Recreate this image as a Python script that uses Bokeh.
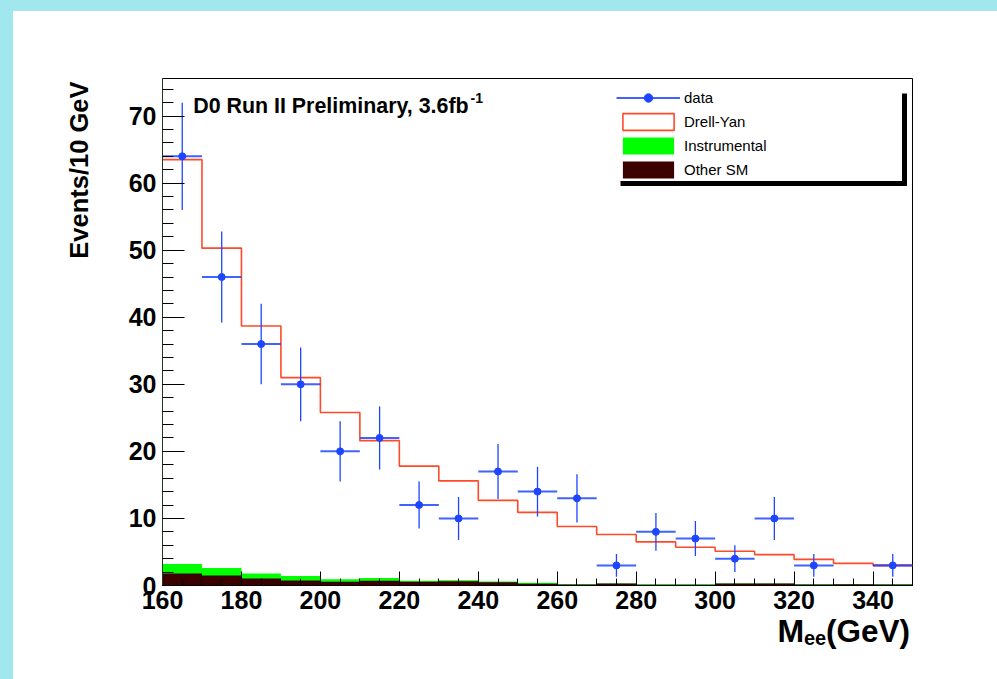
import math
from bokeh.plotting import figure
from bokeh.models import Range1d, SingleIntervalTicker, Label, Legend, LegendItem, Spacer
from bokeh.layouts import column, row
from bokeh.core.properties import value
from bokeh.embed import file_html
from bokeh.resources import INLINE

# ---------------- data ----------------
bin_edges = [160, 170, 180, 190, 200, 210, 220, 230, 240, 250, 260,
             270, 280, 290, 300, 310, 320, 330, 340, 350]
drell_yan = [63.5, 50.3, 38.7, 31.0, 25.8, 21.6, 17.8, 15.6, 12.7, 10.9,
             8.8, 7.6, 6.5, 5.7, 5.1, 4.6, 3.9, 3.3, 3.0]
instrumental_top = [3.2, 2.6, 1.8, 1.4, 0.95, 1.1, 0.7, 0.8, 0.6, 0.4,
                    0.2, 0.3, 0.2, 0.2, 0.3, 0.3, 0.2, 0.2, 0.2]
other_sm = [1.8, 1.5, 1.05, 0.75, 0.55, 0.7, 0.55, 0.65, 0.5, 0.25,
            0.15, 0.3, 0.1, 0.1, 0.3, 0.3, 0.15, 0.2, 0.15]
data_centers = [165, 175, 185, 195, 205, 215, 225, 235, 245, 255, 265,
                275, 285, 295, 305, 315, 325, 345]
data_counts = [64, 46, 36, 30, 20, 22, 12, 10, 17, 14, 13, 3, 8, 7, 4, 10, 3, 3]
data_errors = [8.0, 6.8, 6.0, 5.5, 4.5, 4.7, 3.5, 3.2, 4.1, 3.7, 3.6,
               1.7, 2.8, 2.6, 2.0, 3.2, 1.7, 1.7]
bin_half_width = 5

title_text = "D0 Run II Preliminary, 3.6fb"
title_sup = "-1"
y_title = "Events/10 GeV"
x_title_main = "M"
x_title_sub = "ee"
x_title_unit = "(GeV)"

# ---------------- style ----------------
CYAN = "#a0e8ee"
RED = "#ff4a2a"
BLUE = "#1e46ff"
GREEN = "#00ff00"
BROWN = "#3c0000"
FONT = "Liberation Sans"

W, H = 997, 679
X0, X1, Y0, Y1 = 160, 350, 0, 75.6
FL, FR, FT, FB = 162, 912, 78, 585   # plot frame in page pixels
OFF_X, OFF_Y = 13, 11                # cyan bands
SPLIT_X = 100                        # left title strip | main figure
SPLIT_Y = 621                        # main figure | x title strip
XS_UP = 8                            # x title strip pulled up over the empty border
XS_DY = 15 - XS_UP                   # measured vertical offset of the text glyphs


def px2x(px):
    return X0 + (px - FL) * (X1 - X0) / (FR - FL)


def px2y(py):
    return Y0 + (FB - py) * (Y1 - Y0) / (FB - FT)


def sx(px):  # screen units relative to frame left
    return px - FL


def sy(py):  # screen units measured up from frame bottom
    return FB - py


p = figure(width=W - SPLIT_X, height=SPLIT_Y - OFF_Y,
           x_range=Range1d(X0, X1), y_range=Range1d(Y0, Y1),
           output_backend="svg", toolbar_location=None,
           min_border_left=FL - SPLIT_X, min_border_right=W - FR,
           min_border_top=FT - OFF_Y, min_border_bottom=SPLIT_Y - FB)
p.xgrid.visible = False
p.ygrid.visible = False
p.outline_line_color = "black"
p.outline_line_width = 1
p.background_fill_color = "white"
p.border_fill_color = "white"

for ax in (p.xaxis[0], p.yaxis[0]):
    ax.major_label_text_font = FONT
    ax.major_label_text_font_style = "bold"
    ax.major_label_text_font_size = "25px"
    ax.major_label_text_color = "black"
    ax.major_tick_out = 0
    ax.minor_tick_out = 0
    ax.axis_line_color = "black"
    ax.major_tick_line_color = "black"
    ax.minor_tick_line_color = "black"

p.xaxis.ticker = SingleIntervalTicker(interval=20, num_minor_ticks=4)
p.xaxis.major_tick_in = 14
p.xaxis.minor_tick_in = 7
p.xaxis.major_label_standoff = 5
p.yaxis.ticker = SingleIntervalTicker(interval=10, num_minor_ticks=5)
p.yaxis.major_tick_in = 22
p.yaxis.minor_tick_in = 11
p.yaxis.major_label_standoff = 6
p.yaxis.axis_line_color = "#1f3a1f"

# stacked backgrounds
lefts = bin_edges[:-1]
rights = bin_edges[1:]
r_instr = p.quad(left=lefts, right=rights, bottom=0, top=instrumental_top,
                 fill_color=GREEN, line_color=None)
r_other = p.quad(left=lefts, right=rights, bottom=0, top=other_sm,
                 fill_color=BROWN, line_color=None)

# Drell-Yan outline
p.step(x=bin_edges, y=drell_yan + [drell_yan[-1]], mode="after",
       line_color=RED, line_width=1.6)
p.segment(x0=[bin_edges[-2]], x1=[bin_edges[-1]], y0=[drell_yan[-1]], y1=[drell_yan[-1]],
          line_color="#c83c55", line_width=1.6)
nan = float("nan")
r_dy_proxy = p.quad(left=[nan], right=[nan], bottom=[nan], top=[nan],
                    fill_color="white", line_color=RED, line_width=1.6)

# data points
r_hbar = p.segment(x0=[c - bin_half_width for c in data_centers],
                   x1=[c + bin_half_width for c in data_centers],
                   y0=data_counts, y1=data_counts,
                   line_color=BLUE, line_width=2, line_alpha=0.85)
p.segment(x0=data_centers, x1=data_centers,
          y0=[n - e for n, e in zip(data_counts, data_errors)],
          y1=[n + e for n, e in zip(data_counts, data_errors)],
          line_color=BLUE, line_width=1.3)
r_pts = p.scatter(x=data_centers, y=data_counts, size=7, marker="circle",
                  fill_color=BLUE, line_color=BLUE)

# legend
legend = Legend(items=[
    LegendItem(label="data", renderers=[r_hbar, r_pts]),
    LegendItem(label="Drell-Yan", renderers=[r_dy_proxy]),
    LegendItem(label="Instrumental", renderers=[r_instr]),
    LegendItem(label="Other SM", renderers=[r_other]),
], location=(454, 405))
legend.label_text_font = FONT
legend.label_text_font_size = "15px"
legend.label_text_color = "black"
legend.glyph_width = 64
legend.glyph_height = 21
legend.label_height = 21
legend.spacing = 3
legend.padding = 0
legend.margin = 0
legend.label_standoff = 4
legend.border_line_color = None
legend.background_fill_color = "white"
legend.background_fill_alpha = 1.0
p.add_layout(legend)

# legend shadow
p.quad(left=[px2x(901.5)], right=[px2x(906.5)], top=[px2y(93)], bottom=[px2y(185.5)],
       fill_color="black", line_color=None)
p.quad(left=[px2x(620)], right=[px2x(906.5)], top=[px2y(180.5)], bottom=[px2y(185.5)],
       fill_color="black", line_color=None)


def add_text(px, py, text, size):
    p.add_layout(Label(x=sx(px), y=sy(py), x_units="screen", y_units="screen",
                       text=text, text_font=FONT, text_font_style="bold",
                       text_font_size=size, text_color="black",
                       text_baseline="alphabetic", text_align="left"))


add_text(192.7, 105, title_text, "21.4px")
add_text(470, 97, title_sup, "14px")


def strip(fw, fh, left=0, right=0):
    f = figure(frame_width=fw, frame_height=fh,
               x_range=Range1d(0, fw), y_range=Range1d(0, fh),
               title=None, output_backend="svg",
               toolbar_location=None, x_axis_type=None, y_axis_type=None,
               min_border=0, min_border_left=left, min_border_right=right,
               min_border_top=0, min_border_bottom=0)
    f.xgrid.visible = False
    f.ygrid.visible = False
    f.outline_line_color = None
    f.background_fill_color = "white"
    f.border_fill_color = "white"
    return f


# y title strip (page x 13..100, y 11..679)
ys = strip(SPLIT_X - OFF_X, H - OFF_Y)
ys.text(x=[78 - OFF_X], y=[H - 81], text=[y_title], angle=math.pi / 2,
        text_font=value(FONT), text_font_style="bold", text_font_size="25.5px",
        text_color="black", text_baseline="alphabetic", text_align="right")

# x title strip: frame aligned with the main frame (page x 162..912)
xs = strip(FR - FL, H - SPLIT_Y, left=FL - SPLIT_X, right=W - FR)
xs.margin = (-XS_UP, 0, 0, 0)
xs.text(x=[777 - FL], y=[H - 645 + XS_DY], text=[x_title_main],
        text_font=value(FONT), text_font_style="bold", text_font_size="32px",
        text_color="black", text_baseline="alphabetic", text_align="left")
xs.text(x=[803.5 - FL], y=[H - 652 + XS_DY], text=[x_title_sub],
        text_font=value(FONT), text_font_style="bold", text_font_size="20px",
        text_color="black", text_baseline="alphabetic", text_align="left")
xs.text(x=[825.5 - FL], y=[H - 645 + XS_DY], text=[x_title_unit],
        text_font=value(FONT), text_font_style="bold", text_font_size="31.5px",
        text_color="black", text_baseline="alphabetic", text_align="left")

top_band = Spacer(width=W, height=OFF_Y, styles={"background-color": CYAN})
left_band = Spacer(width=OFF_X, height=H - OFF_Y, styles={"background-color": CYAN})
layout = column(top_band, row(left_band, ys, column(p, xs)))

open("out.html", "w").write(file_html(layout, INLINE))
